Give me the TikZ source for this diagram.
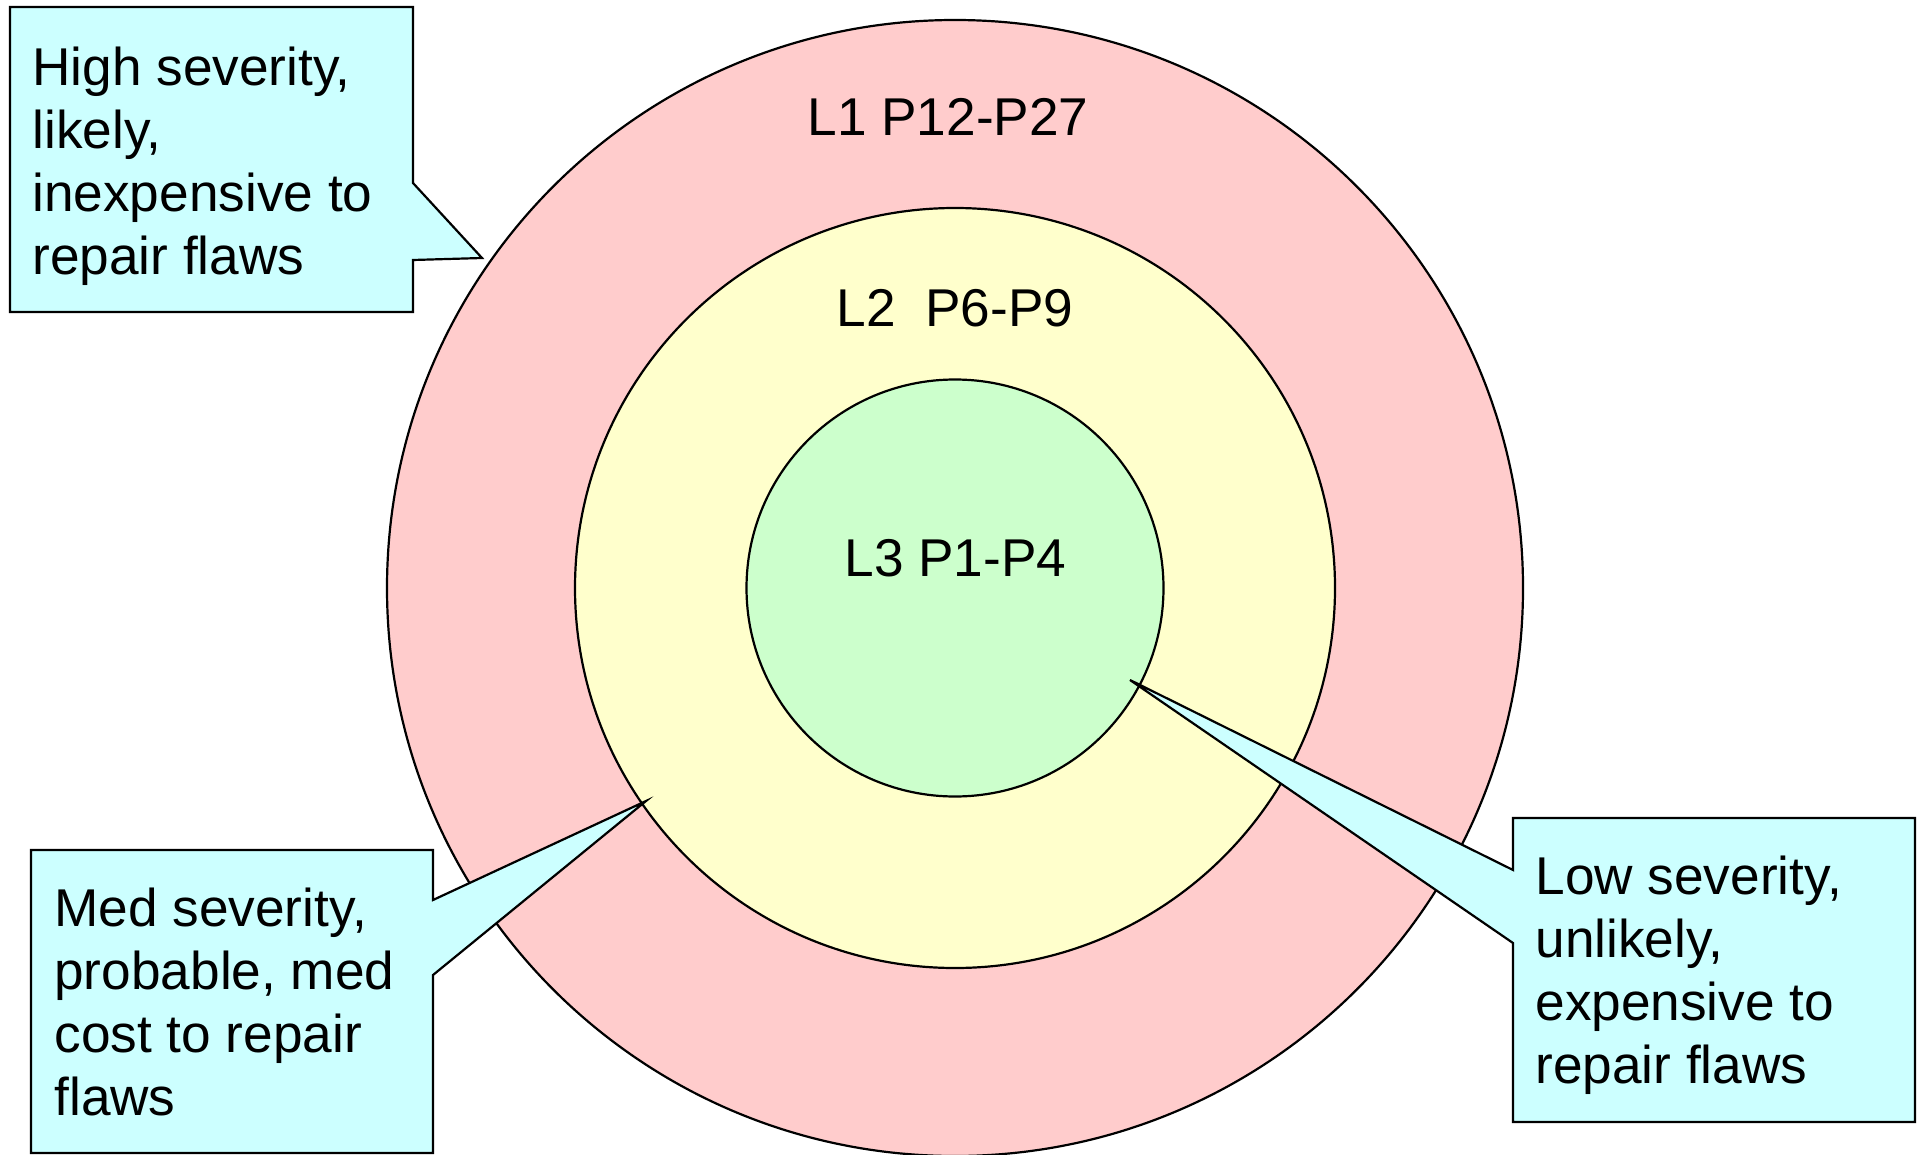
\documentclass[tikz,border=0pt]{standalone}
\usepackage{fontspec}
\setmainfont{Liberation Sans}
\definecolor{pinkfill}{HTML}{FFCCCC}
\definecolor{yellowfill}{HTML}{FFFFCC}
\definecolor{greenfill}{HTML}{CCFFCC}
\definecolor{cyanfill}{HTML}{CCFFFF}
\begin{document}
\begin{tikzpicture}[x=0.5pt,y=-0.5pt,
  ring/.style={draw=black,line width=1.1pt},
  calloutbox/.style={draw=black,line width=1.1pt,fill=cyanfill,line join=miter},
  lbl/.style={font=\fontsize{26.6}{31.5}\selectfont,inner sep=0pt},
  ctext/.style={lbl,align=left,anchor=north west}]
\useasboundingbox (0,0) rectangle (1921,1155);
\fill[white] (0,0) rectangle (1921,1155);
\coordinate (c) at (955,588);
% rings
\draw[ring,fill=pinkfill] (c) circle[radius=568];
\draw[ring,fill=yellowfill] (c) circle[radius=380];
\draw[ring,fill=greenfill] (c) circle[radius=208.5];
% ring labels
\node[lbl,anchor=base] (l1) at (948,136) {L1 P12-P27};
\node[lbl,anchor=base] (l2) at (955,326.7) {L2\ \ P6-P9};
\node[lbl,anchor=base] (l3) at (955.5,576.7) {L3 P1-P4};
% callout tips
\coordinate (tipA) at (482,258);
\coordinate (tipB) at (646,801);
\coordinate (tipC) at (1130,680);
% callouts
\draw[calloutbox] (10,7) -- (413,7) -- (413,183) -- (tipA) -- (413,260) -- (413,312) -- (10,312) -- cycle;
\draw[calloutbox] (31,850) -- (433,850) -- (433,900) -- (tipB) -- (433,975) -- (433,1153) -- (31,1153) -- cycle;
\draw[calloutbox] (1513,818) -- (1915,818) -- (1915,1122) -- (1513,1122) -- (1513,943) -- (tipC) -- (1513,870) -- cycle;
% callout texts
\node[ctext] (high) at (32,47) {High severity,\\likely,\\inexpensive to\\repair flaws};
\node[ctext] (med) at (54,887.7) {Med severity,\\probable, med\\cost to repair\\flaws};
\node[ctext] (low) at (1535,855.3) {Low severity,\\unlikely,\\expensive to\\repair flaws};
\end{tikzpicture}
\end{document}
